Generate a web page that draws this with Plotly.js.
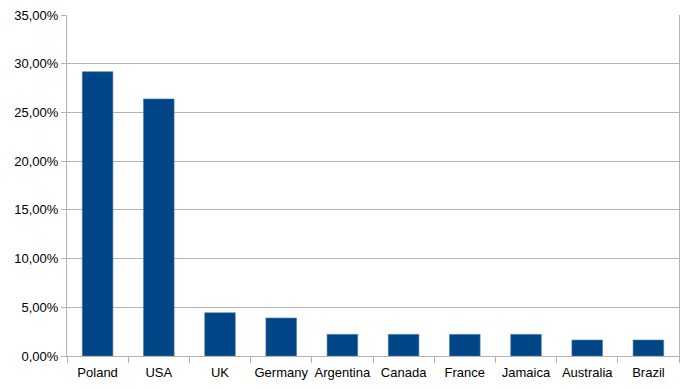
<!DOCTYPE html>
<html>
<head>
<meta charset="utf-8">
<script src="https://cdn.plot.ly/plotly-3.0.1.min.js"></script>
<style>html,body{margin:0;padding:0;background:#fff;}#chart{width:693px;height:389px;}</style>
</head>
<body>
<div id="chart"></div>
<script>
const countries = ["Poland", "USA", "UK", "Germany", "Argentina", "Canada", "France", "Jamaica", "Australia", "Brazil"];
const shares = [0.2918, 0.2638, 0.0444, 0.0390, 0.0222, 0.0222, 0.0222, 0.0222, 0.0164, 0.0164];
const yTicks = [0, 0.05, 0.10, 0.15, 0.20, 0.25, 0.30, 0.35];

const trace = {
  type: 'bar',
  x: countries,
  y: shares,
  marker: {color: '#004586', line: {color: '#4d7aa8', width: 0.6}},
  hoverinfo: 'x+y'
};

const layout = {
  width: 693,
  height: 389,
  margin: {l: 67, r: 14, t: 15, b: 33},
  paper_bgcolor: '#ffffff',
  plot_bgcolor: '#ffffff',
  separators: ',.',
  bargap: 0.5,
  showlegend: false,
  font: {family: 'Liberation Sans, Arial, sans-serif', size: 13, color: '#000000'},
  xaxis: {
    type: 'category',
    automargin: false,
    tickangle: 0,
    showline: true,
    linecolor: '#b3b3b3',
    linewidth: 1,
    ticks: 'outside',
    tickson: 'boundaries',
    ticklen: 6,
    tickcolor: '#b3b3b3',
    ticklabelstandoff: 4,
    showgrid: false,
    tickfont: {size: 13, color: '#000000'}
  },
  yaxis: {
    automargin: false,
    range: [0, 0.35],
    tickvals: yTicks,
    tickformat: '.2%',
    showline: true,
    mirror: true,
    linecolor: '#b3b3b3',
    linewidth: 1,
    ticks: 'outside',
    ticklen: 5,
    tickcolor: '#b3b3b3',
    gridcolor: '#b3b3b3',
    gridwidth: 1,
    zeroline: false,
    tickfont: {size: 13, color: '#000000'}
  }
};

Plotly.newPlot('chart', [trace], layout, {displayModeBar: false, staticPlot: true});
</script>
</body>
</html>
